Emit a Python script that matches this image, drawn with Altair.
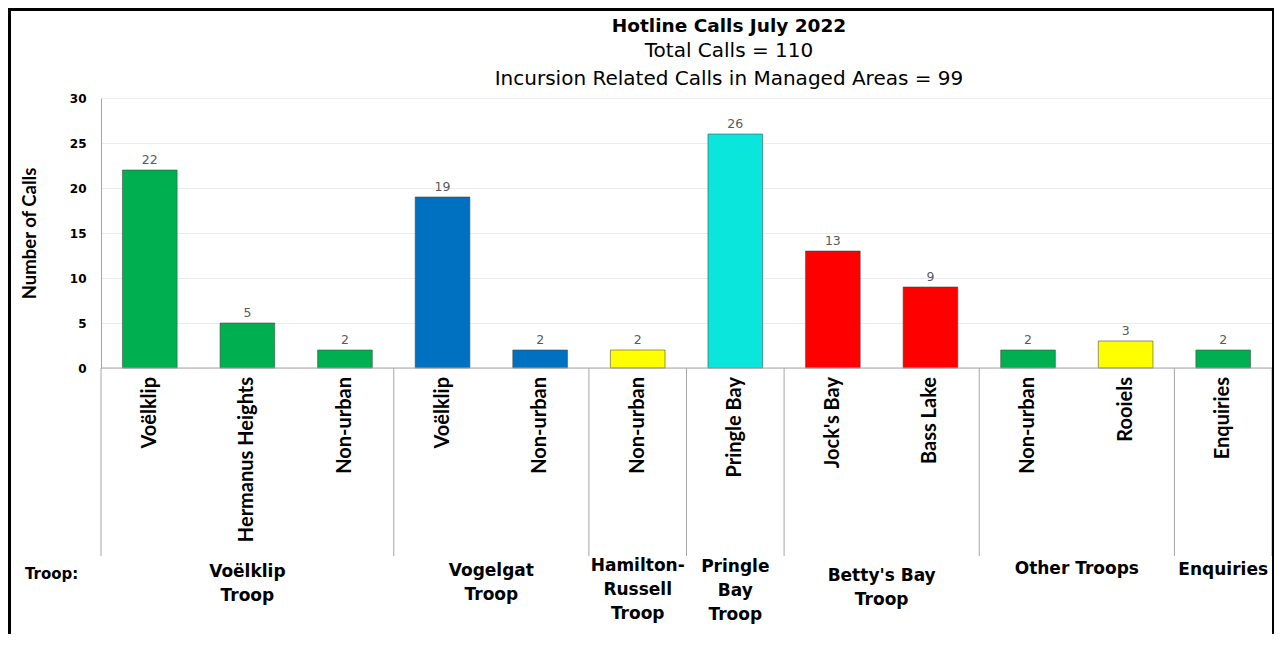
import altair as alt
import pandas as pd

# ---------------- data ----------------
categories = ["Voëlklip", "Hermanus Heights", "Non-urban", "Voëlklip", "Non-urban",
              "Non-urban", "Pringle Bay", "Jock's Bay", "Bass Lake", "Non-urban",
              "Rooiels", "Enquiries"]
calls = [22, 5, 2, 19, 2, 2, 26, 13, 9, 2, 3, 2]
bar_colors = ["#00B050", "#00B050", "#00B050", "#0070C0", "#0070C0", "#FFFF00",
              "#0BE6DC", "#FF0000", "#FF0000", "#00B050", "#FFFF00", "#00B050"]
group_names = ["Voëlklip\nTroop", "Vogelgat\nTroop", "Hamilton-\nRussell\nTroop",
               "Pringle\nBay\nTroop", "Betty's Bay\nTroop", "Other Troops", "Enquiries"]
group_sizes = [3, 2, 1, 1, 2, 2, 1]
title_main = "Hotline Calls July 2022"
title_sub = ["Total Calls = 110", "Incursion Related Calls in Managed Areas = 99"]
y_ticks = [0, 5, 10, 15, 20, 25, 30]

# ---------------- style ----------------
W, H = 1171, 270
BAR_L, BAR_R = 0.22, 0.78
group_label_top = [466, 465, 460, 461, 470, 463, 464]   # pixel offsets from plot top
NARROW = "Liberation Sans Narrow, Arial Narrow, Lato, sans-serif"
WIDE = "DejaVu Sans, Verdana, sans-serif"

n = len(categories)
bars = pd.DataFrame({
    "idx": list(range(n)),
    "left": [i + BAR_L for i in range(n)],
    "right": [i + BAR_R for i in range(n)],
    "mid": [i + 0.5 for i in range(n)],
    "calls": calls,
    "zero": [0] * n,
    "color": bar_colors,
    "cat": categories,
})

bounds = [0]
for s in group_sizes:
    bounds.append(bounds[-1] + s)
sep = pd.DataFrame({"b": bounds})
groups = pd.DataFrame({
    "center": [(bounds[i] + bounds[i + 1]) / 2 for i in range(len(group_sizes))],
    "name": group_names,
    "top": group_label_top,
})
base_df = pd.DataFrame({"x0": [0], "x1": [n], "y": [0]})

xs = alt.Scale(domain=[0, n], nice=False, zero=False)
ys = alt.Scale(domain=[0, 30], nice=False)

bar_layer = alt.Chart(bars).mark_bar(stroke="#404040", strokeWidth=0.8, strokeOpacity=0.7).encode(
    x=alt.X("left:Q", scale=xs, axis=None),
    x2="right:Q",
    y=alt.Y("calls:Q", scale=ys, axis=alt.Axis(
        values=y_ticks, grid=True, gridColor="#ececec", domainColor="#a6a6a6",
        ticks=False, labelFont=WIDE, labelFontWeight="bold", labelFontSize=12,
        labelColor="black", labelPadding=15,
        title="Number of Calls", titleFont=NARROW, titleFontSize=18.5,
        titleFontWeight="bold", titleColor="black", titleX=-72, titleY=H / 2,
        titleAngle=270, titleAlign="center", titleBaseline="middle")),
    y2="zero:Q",
    color=alt.Color("color:N", scale=None),
)

value_labels = alt.Chart(bars).mark_text(
    font=WIDE, fontSize=12.5, color="#595959", dy=-6, baseline="alphabetic"
).encode(
    x=alt.X("mid:Q", scale=xs), y=alt.Y("calls:Q", scale=ys), text="calls:Q"
)

cat_labels = alt.Chart(bars).mark_text(
    font=NARROW, fontSize=20, fontWeight="bold", color="black",
    angle=270, align="right", baseline="middle"
).encode(
    x=alt.X("mid:Q", scale=xs), y=alt.value(H + 9), text="cat:N"
)

separators = alt.Chart(sep).mark_rule(color="#a6a6a6", strokeWidth=1).encode(
    x=alt.X("b:Q", scale=xs), y=alt.value(H), y2=alt.value(H + 188)
)

baseline = alt.Chart(base_df).mark_rule(color="#a6a6a6", strokeWidth=1).encode(
    x=alt.X("x0:Q", scale=xs), x2="x1:Q", y=alt.Y("y:Q", scale=ys)
)

group_labels = alt.Chart(groups).mark_text(
    font=WIDE, fontSize=17, fontWeight="bold", color="black",
    align="center", baseline="top", lineBreak="\n", lineHeight=24
).encode(
    x=alt.X("center:Q", scale=xs), y=alt.Y("top:Q", scale=None), text="name:N"
)

troop_label = alt.Chart(pd.DataFrame({"t": ["Troop:"]})).mark_text(
    font=WIDE, fontSize=15, fontWeight="bold", color="black",
    align="left", baseline="middle"
).encode(x=alt.value(-76), y=alt.value(476), text="t:N")

title1 = alt.Chart(pd.DataFrame({"t": [title_main]})).mark_text(
    font=WIDE, fontSize=18.5, fontWeight="bold", color="black",
    align="center", baseline="alphabetic"
).encode(x=alt.value(628), y=alt.value(-66), text="t:N")

title2 = alt.Chart(pd.DataFrame({"t": title_sub, "yy": [-41, -13]})).mark_text(
    font=WIDE, fontSize=20, color="black", align="center", baseline="alphabetic"
).encode(x=alt.value(628), y=alt.Y("yy:Q", scale=None), text="t:N")

frame = alt.Chart(pd.DataFrame({"f": [1]})).mark_rect(
    filled=False, stroke="black", strokeWidth=4
).encode(x=alt.value(-92), x2=alt.value(1173), y=alt.value(-89), y2=alt.value(700))

chart = alt.layer(
    bar_layer, baseline, separators, value_labels, cat_labels,
    group_labels, troop_label, title1, title2, frame
).properties(
    width=W, height=H,
    autosize=alt.AutoSizeParams(type="none"),
    padding={"left": 93, "top": 90, "right": 2, "bottom": 266},
    background="white",
).configure_view(stroke=None)

chart.save("out.html", embed_options={"renderer": "svg", "actions": False})
